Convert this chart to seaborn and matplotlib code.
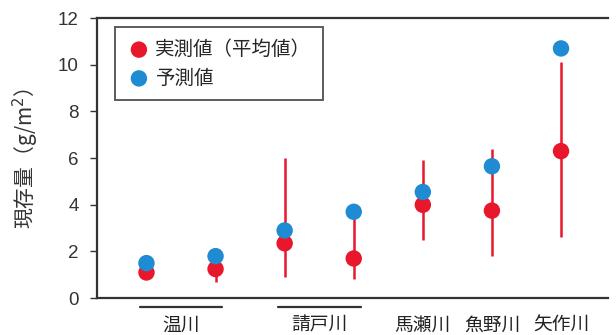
import numpy as np
import pandas as pd
import matplotlib
matplotlib.use("Agg")
import matplotlib.pyplot as plt
import seaborn as sns

# data
sites = ["温川a", "温川b", "請戸川a", "請戸川b", "馬瀬川", "魚野川", "矢作川"]
measured = [1.1, 1.25, 2.35, 1.7, 4.0, 3.75, 6.3]
err_low = [1.0, 0.7, 0.9, 0.8, 2.5, 1.8, 2.6]
err_high = [1.2, 1.4, 6.0, 3.5, 5.9, 6.4, 10.1]
predicted = [1.5, 1.8, 2.9, 3.7, 4.55, 5.65, 10.7]
group_labels = ["温川", "請戸川", "馬瀬川", "魚野川", "矢作川"]
group_members = [[0, 1], [2, 3], [4], [5], [6]]
y_ticks = [0, 2, 4, 6, 8, 10, 12]

RED = "#e8172c"
BLUE = "#1f8bd3"

sns.set_style("white")
plt.rcParams["font.family"] = ["Noto Sans CJK JP", "DejaVu Sans"]

df = pd.DataFrame({
    "pos": np.arange(len(sites)),
    "実測値（平均値）": measured,
    "予測値": predicted,
    "lo": err_low,
    "hi": err_high,
})

fig = plt.figure(figsize=(6.16, 3.35), dpi=100)
ax = fig.add_axes([0.157, 0.110, 0.830, 0.836])

ax.vlines(df["pos"], df["lo"], df["hi"], color=RED, lw=1.8, zorder=2)
sns.scatterplot(data=df, x="pos", y="実測値（平均値）", color=RED, s=140,
                edgecolor="none", ax=ax, zorder=3, label="実測値（平均値）")
sns.scatterplot(data=df, x="pos", y="予測値", color=BLUE, s=140,
                edgecolor="none", ax=ax, zorder=4, label="予測値")

ax.set_xlim(-0.72, 6.68)
ax.set_ylim(0, 12)
ax.set_yticks(y_ticks)
ax.set_yticklabels([str(t) for t in y_ticks], fontsize=13.5, color="#333333",
                   family=["Liberation Sans", "DejaVu Sans"])
ax.tick_params(axis="y", length=5, width=1, direction="out", left=True,
               colors="#333333", pad=8)
ax.set_xticks([])
ax.set_xlabel("")
ax.set_ylabel("現存量（g/m$^2$）", fontsize=15, color="#333333", labelpad=12)

for side in ["left", "top", "bottom"]:
    ax.spines[side].set_color("#333333")
    ax.spines[side].set_linewidth(1.6)
ax.spines["right"].set_visible(False)

# group labels under the axis
for lab, mem in zip(group_labels, group_members):
    xc = np.mean(mem)
    ax.annotate(lab, xy=(xc, 0), xycoords=("data", "axes fraction"),
                xytext=(0, -27), textcoords="offset pixels",
                ha="center", va="center", fontsize=13.5, color="#222222")
    if len(mem) > 1:
        x0 = mem[0] - 0.1
        x1 = mem[-1] + 0.1
        ax.plot([x0, x1], [-0.03, -0.03], color="#333333", lw=1.6,
                transform=ax.get_xaxis_transform(), clip_on=False)

leg = ax.legend(loc="upper left", bbox_to_anchor=(0.035, 0.968), fontsize=14,
                frameon=True, fancybox=False, edgecolor="#333333",
                borderpad=0.6, handletextpad=0.2, labelspacing=0.4,
                borderaxespad=0.0, handlelength=1.3)
leg.get_frame().set_linewidth(1.4)

fig.savefig("out.png", dpi=100)
